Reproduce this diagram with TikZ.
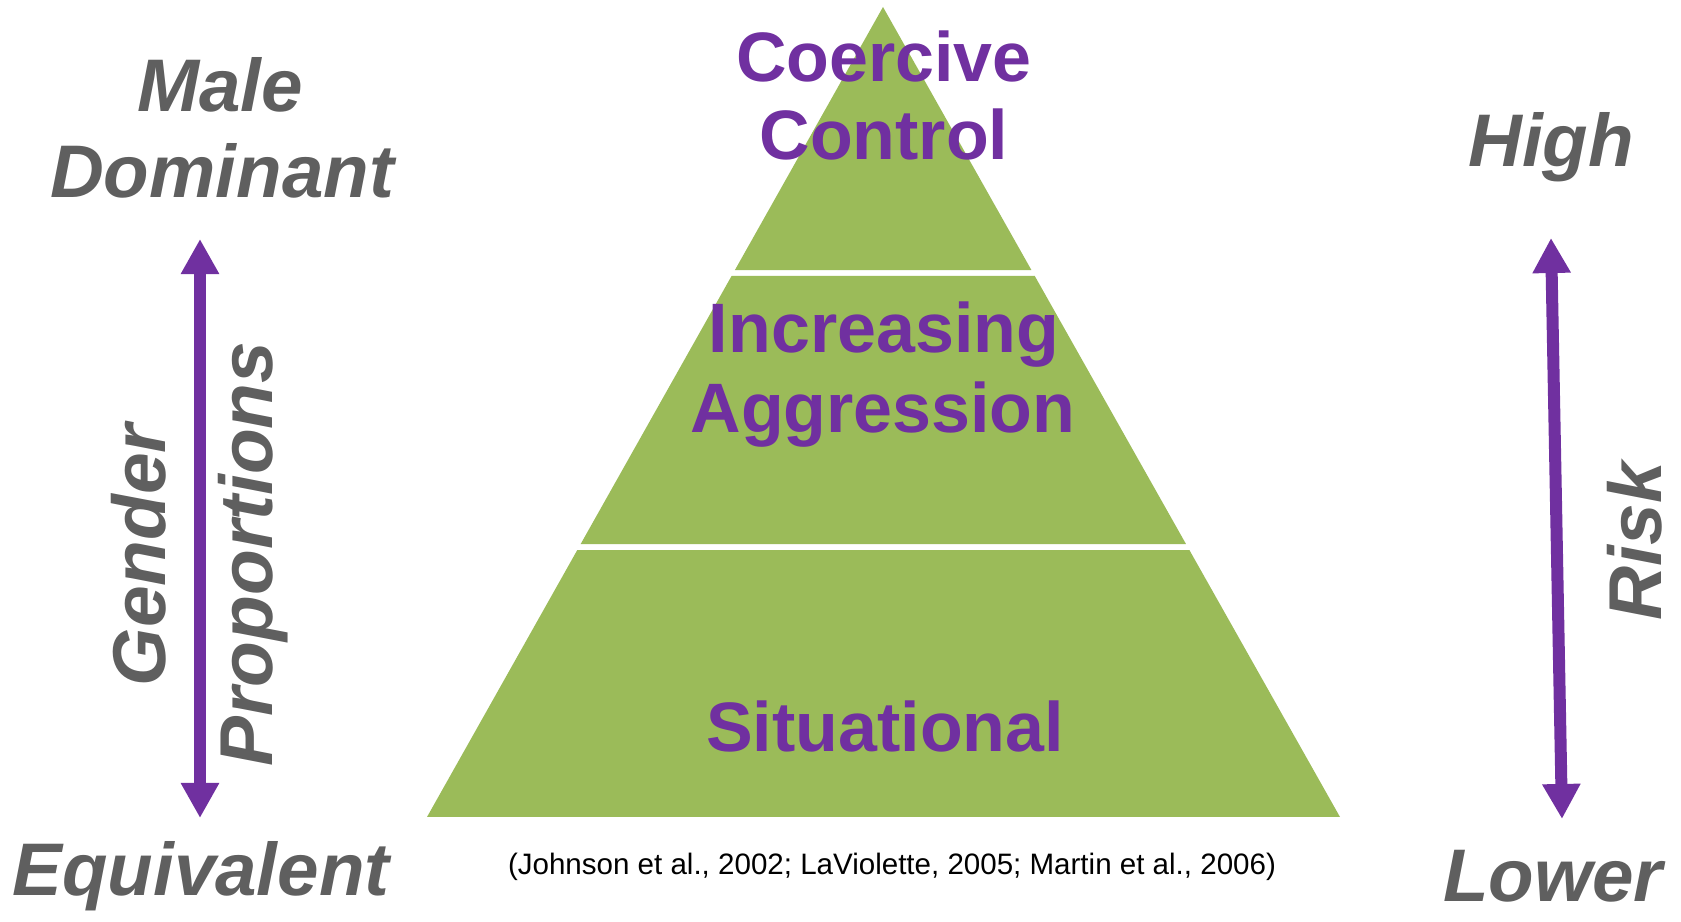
\documentclass[tikz,border=0pt]{standalone}
\usepackage{fontspec}
\setmainfont{Liberation Sans}
\usetikzlibrary{arrows.meta,calc}
\definecolor{pyrgreen}{HTML}{9BBB59}
\definecolor{pyrpurple}{HTML}{7030A0}
\definecolor{axisgray}{HTML}{5F5F5F}
\begin{document}
\begin{tikzpicture}[x=0.01cm,y=-0.01cm,
  level/.style={fill=pyrgreen},
  tier/.style={anchor=base,inner sep=0pt,text=pyrpurple,font=\fontsize{19.9}{24}\selectfont\bfseries},
  axis/.style={anchor=base,inner sep=0pt,text=axisgray,font=\fontsize{21.2}{25.4}\selectfont\bfseries\itshape},
  axisrot/.style={axis,rotate=90,font=\fontsize{21.3}{25.6}\selectfont\bfseries\itshape},
  scale arrow/.style={draw=pyrpurple,line width=0.12cm,{Triangle[width=0.36cm,length=0.35cm]}-{Triangle[width=0.36cm,length=0.35cm]}}]
\useasboundingbox (0,0) rectangle (1681,922);

% pyramid
\coordinate (apex) at (883,7);
\coordinate (bl) at (427,817);
\coordinate (br) at (1340,817);
\fill[level] (apex) -- ($(apex)!0.3247!(br)$) -- ($(apex)!0.3247!(bl)$) -- cycle;
\fill[level] ($(apex)!0.3321!(bl)$) -- ($(apex)!0.3321!(br)$) -- ($(apex)!0.6630!(br)$) -- ($(apex)!0.6630!(bl)$) -- cycle;
\fill[level] ($(apex)!0.6704!(bl)$) -- ($(apex)!0.6704!(br)$) -- (br) -- (bl) -- cycle;

\node(coercive) [tier] at (884,82) {Coercive};
\node(control) [tier] at (884,160) {Control};
\node(increasing) [tier] at (884,353) {Increasing};
\node(aggression) [tier] at (883,433) {Aggression};
\node(situational) [tier] at (885,752) {Situational};

% gender side
\node(male) [axis] at (220,112) {Male};
\node(dominant) [axis] at (222,198) {Dominant};
\node(equivalent) [axis] at (201,896) {Equivalent};
\node(gender) [axisrot] at (166,555) {Gender};
\node(proportions) [axisrot] at (272,554) {Proportions};
\coordinate(gtop) at (200,239);
\coordinate(gbot) at (200,818);
\draw[scale arrow] (gbot) -- (gtop);

% risk side
\node(high) [axis] at (1551,167) {High};
\node(lower) [axis] at (1553,902) {Lower};
\node(risk) [axisrot] at (1661,541) {Risk};
\coordinate(rtop) at (1551,238);
\coordinate(rbot) at (1562,819);
\draw[scale arrow] (rbot) -- (rtop);

\node(cite) [anchor=base,inner sep=0pt,font=\fontsize{8.4}{10}\selectfont] at (892,875) {(Johnson et al., 2002; LaViolette, 2005; Martin et al., 2006)};
\end{tikzpicture}
\end{document}
